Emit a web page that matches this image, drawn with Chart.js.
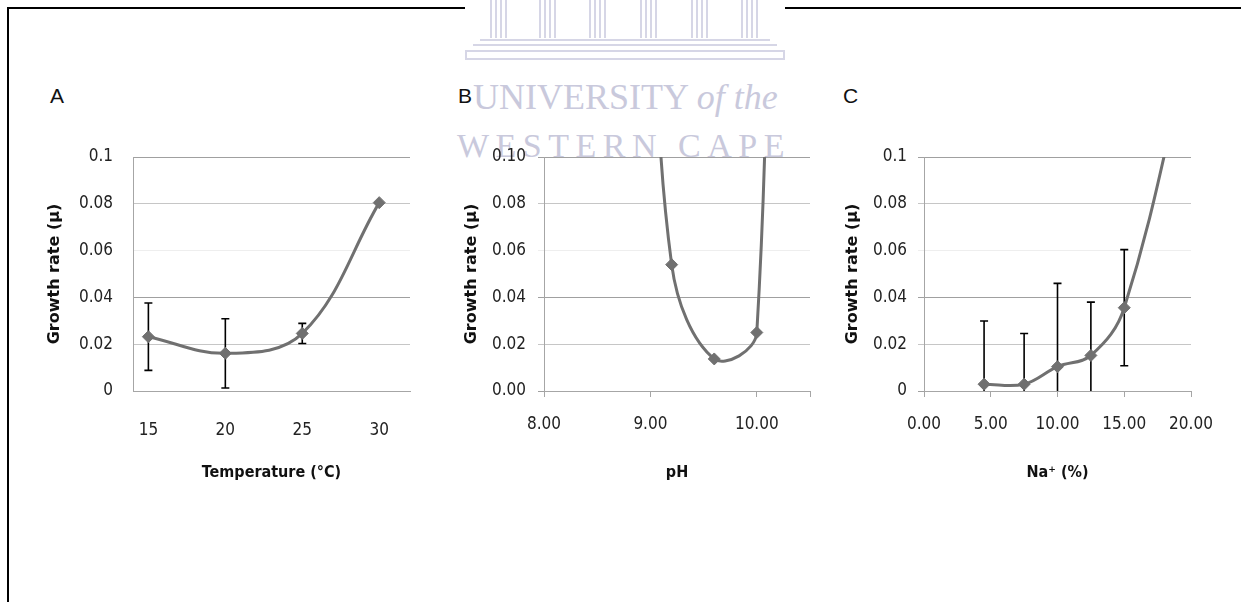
<!DOCTYPE html>
<html lang="en">
<head>
<meta charset="UTF-8">
<title>Growth rate</title>
<script src="https://cdn.jsdelivr.net/npm/chart.js"></script>
<style>
  body { margin: 0; width: 1241px; height: 602px; position: relative; overflow: hidden; background: #fff; font-family: 'Liberation Sans', Arial, sans-serif; }
  .frame { position: absolute; left: 7px; top: 7px; width: 1300px; height: 700px; border-left: 2px solid #000; border-top: 2px solid #000; }
  canvas { position: absolute; top: 140px; z-index: 3; }
  .letter { position: absolute; top: 85px; font-size: 21px; line-height: 21px; color: #111; z-index: 3; }
  .logo { position: absolute; left: 465px; top: 0; width: 320px; height: 62px; background: #fff; z-index: 1; }
  .col { position: absolute; top: 0; width: 17px; height: 38px; background: repeating-linear-gradient(90deg, #d6d6e6 0 2px, transparent 2px 5px); }
  .step { position: absolute; background: #d6d6e6; }
  .wm { position: absolute; font-family: 'Liberation Serif', 'DejaVu Serif', serif; color: #c9c9dc; white-space: nowrap; z-index: 2; }
</style>
</head>
<body>
<div class="frame"></div>

<div class="logo">
  <div class="col" style="left:25px"></div>
  <div class="col" style="left:74px"></div>
  <div class="col" style="left:124px"></div>
  <div class="col" style="left:175px"></div>
  <div class="col" style="left:226px"></div>
  <div class="col" style="left:276px"></div>
  <div class="step" style="left:15px; top:39px; width:290px; height:2px"></div>
  <div class="step" style="left:8px; top:44px; width:304px; height:2px"></div>
  <div class="step" style="left:0; top:50px; width:320px; height:10px; background:none; border:2px solid #d6d6e6; box-sizing:border-box"></div>
</div>
<div class="wm" style="left:473px; top:79px; font-size:36px; line-height:36px">UNIVERSITY <i>of the</i></div>
<div class="wm" style="left:457px; top:129px; font-size:34px; line-height:34px; letter-spacing:6.5px">WESTERN CAPE</div>

<div class="letter" style="left:50px">A</div>
<div class="letter" style="left:458px">B</div>
<div class="letter" style="left:843px">C</div>

<canvas id="chartA" width="410" height="350" style="left:10px"></canvas>
<canvas id="chartB" width="400" height="350" style="left:420px"></canvas>
<canvas id="chartC" width="421" height="350" style="left:820px"></canvas>

<script>
// temperature panel
const tempX = [15, 20, 25, 30];
const tempRate = [0.0232, 0.0161, 0.0246, 0.0805];
const tempErr = [0.0144, 0.0148, 0.0043, null];
const tempTicks = [15, 20, 25, 30];

// pH panel (first and last points run off the top of the axis)
const phX = [9.0, 9.2, 9.6, 10.0, 10.1];
const phRate = [0.22, 0.054, 0.0137, 0.025, 0.4];
const phTicks = [8, 9, 10, 10.5];

// sodium panel (last point is above the axis)
const naX = [4.5, 7.5, 10, 12.5, 15, 20];
const naRate = [0.0029, 0.0029, 0.0104, 0.0152, 0.0356, 0.15];
const naErr = [0.027, 0.0217, 0.0356, 0.0228, 0.0248, null];
const naTicks = [0, 5, 10, 15, 20];

const rateTicks = [0, 0.02, 0.04, 0.06, 0.08, 0.1];

const LINE = '#707070';
const AXIS = '#a6a6a6';
const SHADES = ['#a0a0a0', '#c6c6c6', '#a0a0a0', '#eeeeee', '#c6c6c6', '#a0a0a0'];
const NARROW = "'DejaVu Sans Condensed', 'DejaVu Sans', sans-serif";

const errorBars = {
    id: 'errorBars',
    beforeDatasetsDraw(chart, args, opts) {
        if (!opts.values) return;
        const { ctx, chartArea, scales: { x, y } } = chart;
        const pts = chart.data.datasets[0].data;
        ctx.save();
        ctx.beginPath();
        ctx.rect(chartArea.left, chartArea.top, chartArea.width, chartArea.height);
        ctx.clip();
        ctx.strokeStyle = '#000';
        ctx.lineWidth = 1.6;
        opts.values.forEach(function (e, i) {
            if (e == null) return;
            const px = x.getPixelForValue(pts[i].x);
            const top = y.getPixelForValue(pts[i].y + e);
            const bot = y.getPixelForValue(pts[i].y - e);
            ctx.beginPath();
            ctx.moveTo(px, top); ctx.lineTo(px, bot);
            ctx.moveTo(px - 4, top); ctx.lineTo(px + 4, top);
            ctx.moveTo(px - 4, bot); ctx.lineTo(px + 4, bot);
            ctx.stroke();
        });
        ctx.restore();
    }
};

function panel(id, o) {
    const tl = o.tickMarks ? 6 : 0;
    return new Chart(document.getElementById(id), {
        type: 'line',
        data: {
            datasets: [{
                data: o.xs.map((x, i) => ({ x: x, y: o.ys[i] })),
                borderColor: LINE,
                borderWidth: 3,
                tension: 0.38,
                pointStyle: 'rectRot',
                pointRadius: 6,
                pointBackgroundColor: LINE,
                pointBorderColor: LINE,
                pointBorderWidth: 1
            }]
        },
        options: {
            responsive: false,
            animation: false,
            elements: { line: { capBezierPoints: false } },
            layout: { padding: { top: 17, right: o.padRight, left: 0, bottom: 0 } },
            plugins: {
                legend: { display: false },
                tooltip: { enabled: false },
                errorBars: { values: o.err }
            },
            scales: {
                x: {
                    type: 'linear',
                    min: o.xMin,
                    max: o.xMax,
                    afterBuildTicks: s => { s.ticks = o.xTicks.map(v => ({ value: v })); },
                    afterFit: s => { s.height = 99; s.paddingLeft = 0; s.paddingRight = 0; },
                    grid: { display: o.tickMarks, drawOnChartArea: false, tickLength: 6, color: AXIS },
                    border: { color: AXIS },
                    ticks: {
                        padding: 23 - tl,
                        autoSkip: false,
                        maxRotation: 0,
                        color: '#222',
                        font: { family: NARROW, size: 17 },
                        callback: o.xLabel
                    },
                    title: {
                        display: true,
                        text: o.xTitle,
                        color: '#111',
                        font: { family: NARROW, size: 16, weight: 'bold' },
                        padding: { top: 0, bottom: 8 }
                    }
                },
                y: {
                    min: 0,
                    max: 0.1,
                    afterBuildTicks: s => { s.ticks = rateTicks.map(v => ({ value: v })); },
                    afterFit: s => { s.width = o.yWidth; s.paddingTop = 0; s.paddingBottom = 0; },
                    grid: { color: c => SHADES[c.index], tickLength: 6, drawTicks: o.tickMarks },
                    border: { color: AXIS },
                    ticks: {
                        padding: o.yPad,
                        color: '#222',
                        font: { family: NARROW, size: 17 },
                        callback: o.yLabel
                    },
                    title: {
                        display: true,
                        text: 'Growth rate (μ)',
                        color: '#111',
                        font: { family: "'DejaVu Sans', sans-serif", size: 16, weight: 'bold' },
                        padding: { top: o.yTitlePad, bottom: 0 }
                    }
                }
            }
        },
        plugins: [errorBars]
    });
}

panel('chartA', {
    xs: tempX, ys: tempRate, err: tempErr,
    xMin: 14, xMax: 32, xTicks: tempTicks,
    xLabel: v => String(v), yLabel: v => String(v),
    xTitle: 'Temperature (°C)',
    tickMarks: false, padRight: 10, yWidth: 123, yPad: 20, yTitlePad: 35
});

panel('chartB', {
    xs: phX, ys: phRate, err: null,
    xMin: 8, xMax: 10.5, xTicks: phTicks,
    xLabel: v => (v === 10.5 ? '' : v.toFixed(2)), yLabel: v => v.toFixed(2),
    xTitle: 'pH',
    tickMarks: true, padRight: 10, yWidth: 124, yPad: 12, yTitlePad: 42
});

panel('chartC', {
    xs: naX, ys: naRate, err: naErr,
    xMin: 0, xMax: 20, xTicks: naTicks,
    xLabel: v => v.toFixed(2), yLabel: v => String(v),
    xTitle: 'Na⁺ (%)',
    tickMarks: true, padRight: 50, yWidth: 104, yPad: 11, yTitlePad: 23
});
</script>
</body>
</html>
